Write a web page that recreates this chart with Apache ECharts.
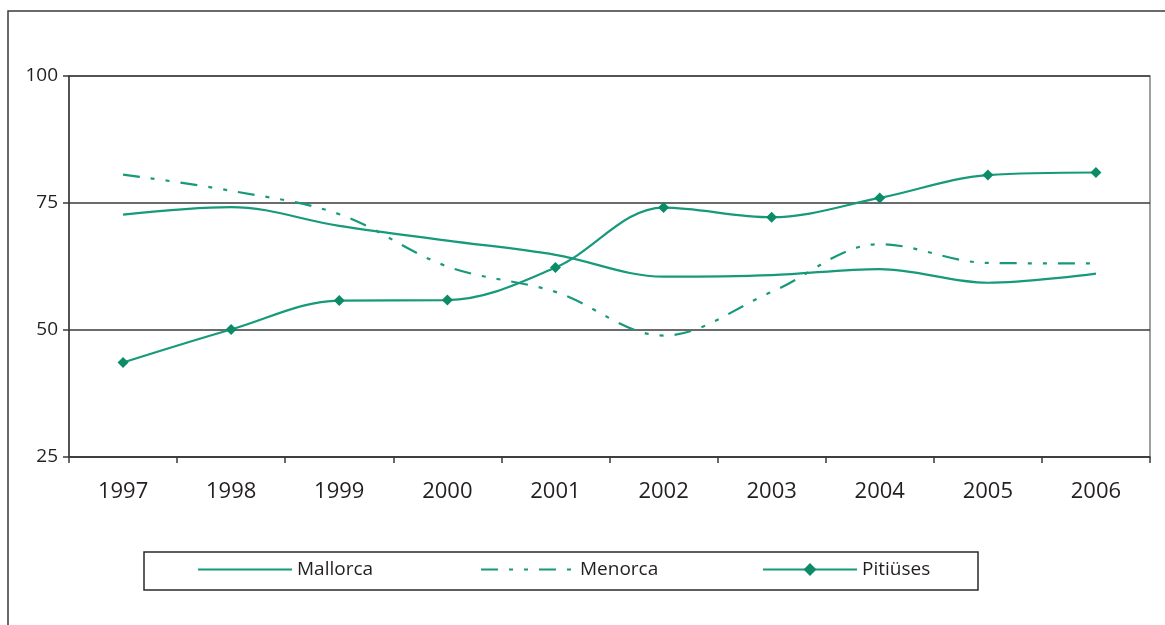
<!DOCTYPE html>
<html>
<head>
<meta charset="utf-8">
<script src="https://cdn.jsdelivr.net/npm/echarts@6/dist/echarts.min.js"></script>
<style>
  html, body { margin: 0; padding: 0; background: #ffffff; }
  #chart { width: 1165px; height: 625px; }
</style>
</head>
<body>
<div id="chart"></div>
<script>
// Years on the category axis
const years = ['1997', '1998', '1999', '2000', '2001', '2002', '2003', '2004', '2005', '2006'];

// Series values per island
const mallorca = [72.7, 74.2, 70.5, 67.6, 64.8, 60.5, 60.8, 62.0, 59.3, 61.1];
const menorca  = [80.6, 77.4, 72.8, 62.5, 57.5, 48.9, 57.5, 66.9, 63.2, 63.1];
const pitiuses = [43.6, 50.1, 55.8, 55.9, 62.3, 74.1, 72.2, 76.0, 80.5, 81.0];

// Value axis ticks
const yTicks = [25, 50, 75, 100];

const LINE = '#17997b';
const MARK = '#0b8b67';
const INK = '#231f20';
const FONT = '"Open Sans", "DejaVu Sans", sans-serif';

const chart = echarts.init(document.getElementById('chart'), null, { renderer: 'canvas' });

const legendText = { fontFamily: FONT, fontSize: 19, color: INK };

// one legend block per series, placed along the framed strip below the plot
function legendBlock(name, left, hideSymbol) {
  const block = {
    data: [name], left: left, top: 560, padding: 0,
    itemWidth: 94, itemHeight: hideSymbol ? 12 : 16, itemGap: 0,
    textStyle: legendText
  };
  if (hideSymbol) block.itemStyle = { opacity: 0, borderWidth: 0 };
  return block;
}

chart.setOption({
  animation: false,
  backgroundColor: '#ffffff',
  grid: {
    left: 69, top: 76, right: 15, bottom: 168,
    show: true, borderColor: '#808080', borderWidth: 1.5
  },
  xAxis: {
    type: 'category',
    data: years,
    boundaryGap: true,
    axisLine: { lineStyle: { color: '#3a3a3a', width: 1.5 } },
    axisTick: { show: true, inside: false, length: 6, alignWithLabel: false, lineStyle: { color: '#3a3a3a', width: 1.5 } },
    axisLabel: { fontFamily: FONT, fontSize: 22, color: INK, margin: 24 },
    splitLine: { show: false }
  },
  yAxis: {
    type: 'value',
    min: yTicks[0],
    max: yTicks[yTicks.length - 1],
    interval: 25,
    axisLine: { show: true, lineStyle: { color: '#3a3a3a', width: 1.5 } },
    axisTick: { show: true, inside: false, length: 6, lineStyle: { color: '#3a3a3a', width: 1.5 } },
    axisLabel: { fontFamily: FONT, fontSize: 19, color: INK, margin: 11 },
    splitLine: { show: true, lineStyle: { color: '#3a3a3a', width: 1.5 } }
  },
  legend: [
    legendBlock('Mallorca', 197, true),
    legendBlock('Menorca', 480, true),
    legendBlock('Pitiüses', 762, false)
  ],
  graphic: [
    // outer frame
    {
      type: 'rect', silent: true, z: -1,
      shape: { x: 8, y: 11, width: 1170, height: 630 },
      style: { fill: 'none', stroke: '#3a3a3a', lineWidth: 1.5 }
    },
    // legend frame
    {
      type: 'rect', silent: true,
      shape: { x: 144, y: 552, width: 834, height: 38 },
      style: { fill: 'none', stroke: '#2a2a2a', lineWidth: 1.5 }
    }
  ],
  series: [
    {
      name: 'Mallorca', type: 'line', data: mallorca,
      smooth: 0.35, symbol: 'none',
      lineStyle: { color: LINE, width: 2.2 },
      itemStyle: { color: LINE }
    },
    {
      name: 'Menorca', type: 'line', data: menorca,
      smooth: 0.35, symbol: 'none',
      lineStyle: { color: LINE, width: 2.2, type: [17, 11, 4, 11, 4, 11] },
      itemStyle: { color: LINE }
    },
    {
      name: 'Pitiüses', type: 'line', data: pitiuses,
      smooth: 0.35, symbol: 'diamond', symbolSize: 11, showSymbol: true,
      lineStyle: { color: LINE, width: 2.2 },
      itemStyle: { color: MARK, borderWidth: 0 }
    }
  ]
});
</script>
</body>
</html>
